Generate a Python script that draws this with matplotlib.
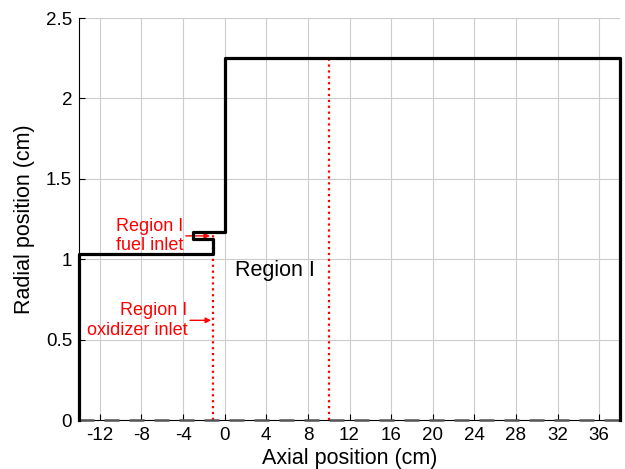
import matplotlib
matplotlib.use("Agg")
import matplotlib.pyplot as plt

plt.rcParams['font.family'] = ['Liberation Sans', 'DejaVu Sans']
plt.rcParams['axes.unicode_minus'] = False

# contorno de la geometria (cm)
geom_x = [-14, -14, -1.1, -1.1, -3, -3, 0, 0, 38, 38]
geom_y = [0, 1.03, 1.03, 1.125, 1.125, 1.17, 1.17, 2.25, 2.25, 0]

# eje de simetria
axis_x = [-14, 38]
axis_y = [0, 0]

# entradas (lineas punteadas rojas)
inlet_x = [-1.1, 10]
inlet_top = [1.17, 2.25]

xticks = list(range(-12, 37, 4))
yticks = [0, 0.5, 1, 1.5, 2, 2.5]
yticklabels = ['0', '0.5', '1', '1.5', '2', '2.5']

fig = plt.figure(figsize=(6.25, 4.69), dpi=100)
ax = fig.add_axes([79/625, 1-420/469, (620-79)/625, (420-18)/469])

ax.grid(True, color='#cccccc', lw=0.8)
ax.set_axisbelow(True)

for xi, yt in zip(inlet_x, inlet_top):
    ax.plot([xi, xi], [0, yt], color='red', ls=':', lw=1.6, zorder=3)

ax.plot(axis_x, axis_y, color='#555555', ls=(0, (6, 4)), lw=1.8, zorder=3, clip_on=False)
ax.plot(geom_x, geom_y, color='black', lw=2.3, zorder=4, clip_on=False)

flecha = dict(arrowstyle='-|>', color='red', lw=1, mutation_scale=8, shrinkA=0, shrinkB=0)
ax.annotate('Region I\nfuel inlet', xy=(-1.4, 1.145), xytext=(-4.0, 1.145),
            color='red', fontsize=13, ha='right', va='center', multialignment='right',
            arrowprops=flecha)
ax.annotate('Region I\noxidizer inlet', xy=(-1.3, 0.62), xytext=(-3.6, 0.62),
            color='red', fontsize=13, ha='right', va='center', multialignment='right',
            arrowprops=flecha)
ax.text(4.85, 0.93, 'Region I', fontsize=15.5, ha='center', va='center')

ax.set_xlim(-14, 38)
ax.set_ylim(0, 2.5)
ax.set_xticks(xticks)
ax.set_yticks(yticks)
ax.set_yticklabels(yticklabels)
ax.tick_params(direction='in', labelsize=13.5, length=4, pad=5)
ax.spines['top'].set_visible(False)
ax.spines['right'].set_visible(False)
ax.set_xlabel('Axial position (cm)', fontsize=15.5, labelpad=3)
ax.set_ylabel('Radial position (cm)', fontsize=15.5, labelpad=8)

fig.savefig('out.png', dpi=100)
